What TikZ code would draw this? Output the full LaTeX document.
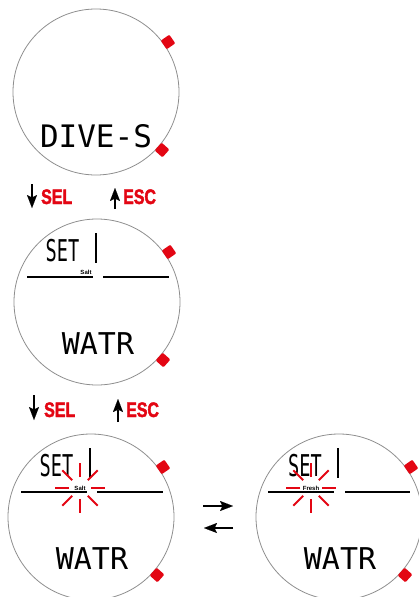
\documentclass[tikz,border=0pt]{standalone}
\usepackage{fontspec}
\setmainfont{Liberation Sans}
\newfontfamily\lcdfont{DejaVu Sans Mono}
\newfontfamily\selfont[FakeStretch=0.76,FakeBold=2]{Liberation Sans Bold}
\usetikzlibrary{arrows.meta}
\definecolor{wred}{HTML}{E30613}
\definecolor{ringgray}{HTML}{8E8E8E}
\newcommand\wwatch[3]{%
  \node[ringline,circle,minimum size=166pt,inner sep=0pt] (#1) at (#2,#3) {};
  \node[btn,rotate=35] (#1-b1) at ([shift={(72,-50)}]#1.center) {};
  \node[btn,rotate=-42] (#1-b2) at ([shift={(66,58)}]#1.center) {};
}
\begin{document}
\begin{tikzpicture}[x=1pt,y=-1pt,
  ringline/.style={draw=ringgray,line width=0.8pt},
  btn/.style={fill=wred,minimum width=10.5pt,minimum height=10.5pt,inner sep=0pt,rounded corners=1pt},
  lcdtext/.style={font=\lcdfont\fontsize{30}{30}\selectfont,inner sep=0pt,anchor=base},
  lbl/.style={font=\selfont\fontsize{21}{21}\selectfont,text=wred,inner sep=0pt,anchor=base west},
  flow/.style={line width=1.2pt,-{Stealth[length=13pt,width=10pt,inset=2.5pt,line width=0.01pt]}},
  lcdline/.style={line width=1.2pt},
  ray/.style={draw=wred,line width=1.8pt},
  tinytext/.style={font=\bfseries\fontsize{6}{6}\selectfont,inner sep=0.5pt}
]
\useasboundingbox (0,0) rectangle (419,597);
\clip (0,0) rectangle (419,597);

% ---- watch 1
\wwatch{w1}{96}{92}
\node[lcdtext,font=\lcdfont\fontsize{31}{31}\selectfont] (t1) at (96,147) {DIVE-S};

% ---- SEL / ESC row 1
\coordinate (s1a) at (32,184); \coordinate (s1b) at (32,208);
\draw[flow] (s1a) -- (s1b);
\node[lbl] (sel1) at (41,204) {SEL};
\coordinate (e1a) at (115,209); \coordinate (e1b) at (115,188);
\draw[flow] (e1a) -- (e1b);
\node[lbl] (esc1) at (123,204) {ESC};

% ---- watch 2
\wwatch{w2}{97}{302}
\node[lcdtext] (set2) at (62.5,261) {\scalebox{0.62}[1]{SET}};
\draw[lcdline] (96,233) -- (96,263);
\draw[lcdline] (27,277) -- (93,277);
\draw[lcdline] (103,277) -- (169,277);
\node[tinytext] (salt2) at (86,272) {Salt};
\node[lcdtext] (watr2) at (98,354) {WATR};

% ---- SEL / ESC row 2
\coordinate (s2a) at (34,395); \coordinate (s2b) at (34,420);
\draw[flow] (s2a) -- (s2b);
\node[lbl] (sel2) at (44,417) {SEL};
\coordinate (e2a) at (118,422); \coordinate (e2b) at (118,399);
\draw[flow] (e2a) -- (e2b);
\node[lbl] (esc2) at (126,417) {ESC};

% ---- watch 3
\wwatch{w3}{91}{517}
\node[lcdtext] (set3) at (56.5,476) {\scalebox{0.62}[1]{SET}};
\draw[lcdline] (90,448) -- (90,478);
\draw[lcdline] (21,492) -- (87,492);
\draw[lcdline] (97,492) -- (163,492);
\node[tinytext] (salt3) at (80,488) {Salt};
\foreach \a in {0,45,...,315}
  \draw[ray] ([shift={(\a:11)}]salt3.center) -- ([shift={(\a:25)}]salt3.center);
\node[lcdtext] (watr3) at (92,569) {WATR};

% ---- transition arrows
\coordinate (r1) at (203,506); \coordinate (r2) at (233,506);
\draw[flow] (r1) -- (r2);
\coordinate (l1) at (233,528); \coordinate (l2) at (204,528);
\draw[flow] (l1) -- (l2);

% ---- watch 4
\wwatch{w4}{339}{517}
\node[lcdtext] (set4) at (305,476) {\scalebox{0.62}[1]{SET}};
\draw[lcdline] (338,448) -- (338,478);
\draw[lcdline] (268,492) -- (334,492);
\draw[lcdline] (345,492) -- (410,492);
\node[tinytext] (fresh4) at (311,488) {Fresh};
\foreach \a in {0,45,...,315}
  \draw[ray] ([shift={(\a:11)}]fresh4.center) -- ([shift={(\a:25)}]fresh4.center);
\node[lcdtext] (watr4) at (340,569) {WATR};
\end{tikzpicture}
\end{document}
